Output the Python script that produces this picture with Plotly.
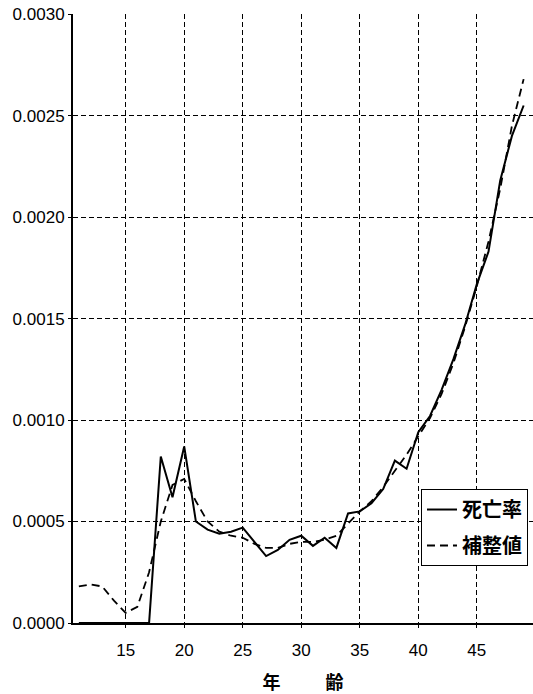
import plotly.graph_objects as go

ages = list(range(11, 50))
death_rate = [0, 0, 0, 0, 0, 0, 0,
              0.00082, 0.00062, 0.00087, 0.00050, 0.00046, 0.00044, 0.00045,
              0.00047, 0.00040, 0.00033, 0.00036, 0.00041, 0.00043, 0.00038,
              0.00042, 0.00037, 0.00054, 0.00055, 0.00059, 0.00066, 0.00080,
              0.00076, 0.00094, 0.00102, 0.00115, 0.00130, 0.00147, 0.00167,
              0.00183, 0.00218, 0.00240, 0.00255]
adjusted = [0.00018, 0.00019, 0.00018, 0.00011, 0.00005, 0.00008, 0.00025,
            0.00050, 0.00068, 0.00071, 0.00060, 0.00050, 0.00045, 0.00043,
            0.00042, 0.00039, 0.00037, 0.00037, 0.00039, 0.00040, 0.00040,
            0.00041, 0.00043, 0.00049, 0.00055, 0.00060, 0.00067, 0.00075,
            0.00083, 0.00092, 0.00101, 0.00113, 0.00128, 0.00146, 0.00166,
            0.00188, 0.00214, 0.00245, 0.00268]
x_ticks = [15, 20, 25, 30, 35, 40, 45]
y_ticks = [0.0, 0.0005, 0.0010, 0.0015, 0.0020, 0.0025, 0.0030]
names = ["死亡率", "補整値"]

fig = go.Figure()
fig.add_trace(go.Scatter(x=ages, y=death_rate, mode="lines", name=names[0],
                         legendgroup="a",
                         line=dict(color="black", width=2)))
fig.add_trace(go.Scatter(x=ages, y=adjusted, mode="lines", name=names[1],
                         legendgroup="b",
                         line=dict(color="black", width=1.8, dash="8px,5px")))

num_font = dict(family="Liberation Sans, Arial, sans-serif", size=17, color="black")
cjk = "Noto Sans CJK JP, sans-serif"

fig.update_layout(
    width=533, height=694,
    margin=dict(l=73, r=0, t=14, b=71),
    paper_bgcolor="white", plot_bgcolor="white",
    showlegend=True,
    legend=dict(x=0.7565, y=0.22, xanchor="left", yanchor="top",
                bgcolor="white", bordercolor="black", borderwidth=1,
                font=dict(family=cjk, size=20, color="black", weight=700),
                tracegroupgap=7, itemwidth=30),
    xaxis=dict(range=[10.5, 49.8], tickvals=x_ticks, automargin=False,
               showgrid=True, gridcolor="black", gridwidth=1, griddash="5px,3px",
               showline=True, linecolor="black", linewidth=2,
               ticks="outside", ticklen=3, tickcolor="black",
               ticklabelstandoff=8, ticklabeloverflow="allow",
               tickfont=num_font, zeroline=False,
               title=dict(text="年\u3000\u3000\u2002齢",
                          font=dict(family=cjk, size=18, color="black", weight=700),
                          standoff=19)),
    yaxis=dict(range=[0, 0.0030008], tickvals=y_ticks, tickformat=".4f",
               automargin=False, ticklabeloverflow="allow",
               showgrid=True, gridcolor="black", gridwidth=1, griddash="5px,3px",
               showline=True, linecolor="black", linewidth=2,
               ticks="outside", ticklen=3, tickcolor="black",
               tickfont=num_font, zeroline=False),
)

fig.write_html(
    "out.html",
    config={"displayModeBar": False},
    post_script="document.body.style.margin='0';document.body.style.overflow='hidden';",
)
